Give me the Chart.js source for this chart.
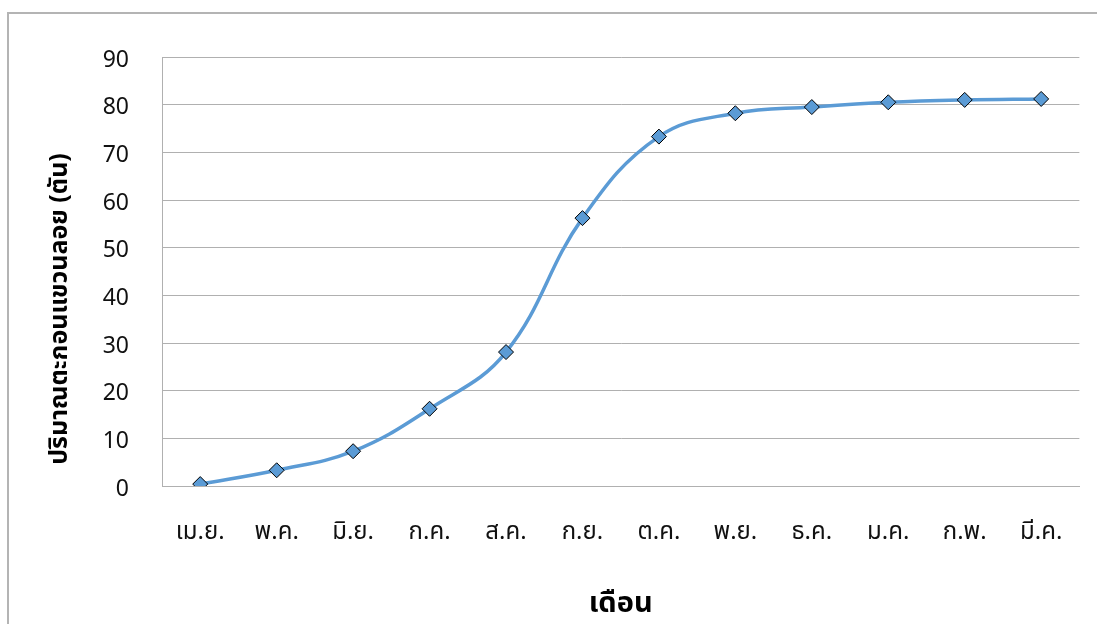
<!DOCTYPE html>
<html lang="th">
<head>
  <meta charset="UTF-8" />
  <title>ปริมาณตะกอนแขวนลอย</title>
  <script src="https://cdn.jsdelivr.net/npm/chart.js"></script>
  <style>
    html, body { margin: 0; padding: 0; background: #fff; overflow: hidden; }
    #wrap { position: relative; width: 1097px; height: 624px; }
    #frame {
      position: absolute; left: 7px; top: 12px; width: 1200px; height: 700px;
      border: 2px solid #b4b4b4; box-sizing: border-box;
    }
    canvas { position: absolute; left: 0; top: 0; }
  </style>
</head>
<body>
  <div id="wrap">
    <div id="frame"></div>
    <canvas id="sediment" width="1097" height="624"></canvas>
  </div>

  <script>
    const months = ['เม.ย.', 'พ.ค.', 'มิ.ย.', 'ก.ค.', 'ส.ค.', 'ก.ย.', 'ต.ค.', 'พ.ย.', 'ธ.ค.', 'ม.ค.', 'ก.พ.', 'มี.ค.'];
    const sediment = [0.4, 3.3, 7.3, 16.2, 28.1, 56.2, 73.3, 78.2, 79.5, 80.5, 81.0, 81.2];
    const yTicks = [0, 10, 20, 30, 40, 50, 60, 70, 80, 90];

    const yTitle = 'ปริมาณตะกอนแขวนลอย (ตัน)';
    const xTitle = 'เดือน';

    const FONT = '"Noto Sans Thai", "Leelawadee UI", Tahoma, "DejaVu Sans", sans-serif';
    const GRID = '#b0b0b0';

    // y title sits a bit lower than the plot centre, so it is drawn here
    const yTitlePlugin = {
      id: 'yTitle',
      afterDraw(chart) {
        const ctx = chart.ctx;
        ctx.save();
        ctx.translate(62, 309);
        ctx.rotate(-Math.PI / 2);
        ctx.font = 'bold 25px ' + FONT;
        ctx.fillStyle = '#000';
        ctx.textAlign = 'center';
        ctx.textBaseline = 'middle';
        ctx.fillText(yTitle, 0, 0);
        ctx.restore();
      }
    };

    new Chart(document.getElementById('sediment'), {
      type: 'line',
      data: {
        labels: months,
        datasets: [{
          data: sediment,
          borderColor: '#5b9bd5',
          borderWidth: 3.5,
          tension: 0.4,
          pointStyle: 'rectRot',
          pointRadius: 7.5,
          pointBackgroundColor: '#5b9bd5',
          pointBorderColor: '#000',
          pointBorderWidth: 1
        }]
      },
      options: {
        responsive: false,
        animation: false,
        layout: { padding: { left: 40, top: 57, right: 16, bottom: 0 } },
        plugins: {
          legend: { display: false },
          tooltip: { enabled: false }
        },
        scales: {
          x: {
            offset: true,
            grid: { display: false, drawTicks: false },
            border: { display: true, color: GRID, width: 1 },
            ticks: { padding: 34, color: '#111', font: { family: FONT, size: 24 } },
            title: {
              display: true,
              text: xTitle,
              color: '#000',
              font: { family: FONT, size: 29, weight: 'bold' },
              padding: { top: 0, bottom: 0 }
            },
            afterFit(scale) { scale.height = 138; }
          },
          y: {
            min: 0,
            max: 90,
            afterBuildTicks(scale) { scale.ticks = yTicks.map(v => ({ value: v })); },
            grid: { color: GRID, lineWidth: 1, drawTicks: false },
            border: { display: true, color: GRID, width: 1 },
            ticks: { padding: 33, labelOffset: 5, color: '#111', font: { family: FONT, size: 23 } },
            afterFit(scale) { scale.width = 122; }
          }
        }
      },
      plugins: [yTitlePlugin]
    });
  </script>
</body>
</html>
